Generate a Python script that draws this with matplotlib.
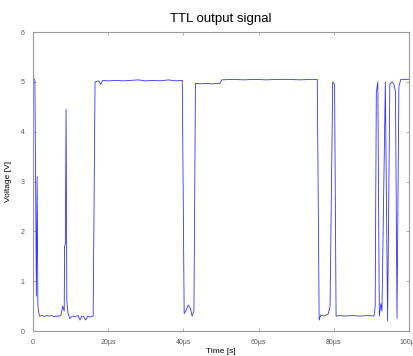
import matplotlib
matplotlib.use("Agg")
import matplotlib.pyplot as plt

plt.rcParams['font.family'] = ['Liberation Sans', 'DejaVu Sans']

# signal samples (time in µs, voltage in V)
time_us = [0, 0.3, 0.5, 0.9, 1.1, 1.3, 1.7, 2.5, 3.0, 3.5, 4.2, 5.0, 5.6, 6.3, 7.0, 7.4,
           7.9, 8.3, 8.4, 8.6, 8.8, 9.0, 9.3, 9.8, 10.5, 11.2, 12.0, 12.5, 13.0, 13.5,
           14.0, 14.6, 15.2, 16.0, 16.5, 17.5, 18.0, 18.5, 20.0, 22.0, 24.0, 26.0, 28.0,
           30.0, 32.0, 34.0, 36.0, 38.0, 39.7, 40.2, 40.6, 41.3, 41.9, 42.3, 42.8, 43.2,
           44.5, 46.0, 47.5, 49.0, 49.7, 50.2, 53.0, 56.0, 59.0, 62.0, 65.0, 68.0, 71.0,
           74.0, 75.6, 76.1, 76.5, 77.3, 78.5, 79.0, 79.7, 80.2, 80.6, 81.5, 83.0, 85.0,
           87.0, 89.0, 90.7, 91.0, 91.3, 91.7, 92.1, 92.5, 92.8, 93.7, 94.3, 94.9, 95.5,
           96.0, 96.4, 96.8, 97.3, 97.8, 99.0, 100.0]
voltage = [5.05, 5.06, 5.03, 0.7, 3.1, 0.5, 0.3, 0.31, 0.29, 0.31, 0.3, 0.31, 0.29, 0.3, 0.3, 0.31,
           0.5, 0.4, 1.7, 1.75, 4.45, 0.6, 0.36, 0.25, 0.3, 0.29, 0.31, 0.22, 0.3, 0.29,
           0.22, 0.3, 0.28, 0.3, 5.0, 5.02, 4.95, 5.03, 5.02, 5.03, 5.02, 5.03, 5.04,
           5.02, 5.03, 5.02, 5.04, 5.02, 5.03, 0.35, 0.4, 0.52, 0.45, 0.3, 0.4, 4.97,
           4.96, 4.97, 4.96, 4.97, 4.97, 5.04, 5.05, 5.04, 5.05, 5.04, 5.05, 5.05, 5.04,
           5.05, 5.05, 0.22, 0.32, 0.3, 0.34, 0.5, 5.0, 4.95, 0.3, 0.31, 0.3, 0.31,
           0.3, 0.31, 0.3, 0.5, 4.8, 5.0, 0.3, 0.55, 0.4, 5.0, 0.2, 4.95, 5.0,
           4.95, 4.8, 0.25, 4.9, 5.05, 5.05, 5.05]

x_ticks = [0, 20, 40, 60, 80, 100]
x_tick_labels = ['0', '20µs', '40µs', '60µs', '80µs', '100µs']
y_ticks = [0, 1, 2, 3, 4, 5, 6]

fig = plt.figure(figsize=(4.14, 3.56), dpi=100)
ax = fig.add_axes([0.0797, 0.0702, 0.9083, 0.8398])

ax.plot(time_us, voltage, color='#3333ff', linewidth=0.6)

ax.set_xlim(0, 100)
ax.set_ylim(0, 6)
ax.set_xticks(x_ticks)
ax.set_xticklabels(x_tick_labels)
ax.set_yticks(y_ticks)
ax.tick_params(direction='in', length=2.5, width=0.5, colors='#888888',
               labelsize=5, labelcolor='#555555', top=True, right=True, pad=6)
for spine in ax.spines.values():
    spine.set_color('#999999')
    spine.set_linewidth(0.8)

ax.set_title('TTL output signal', fontsize=9.5, pad=7)
ax.set_xlabel('Time [s]', fontsize=6, labelpad=1)
ax.set_ylabel('Voltage [V]', fontsize=6, labelpad=6)

fig.savefig('out.png', dpi=100)
